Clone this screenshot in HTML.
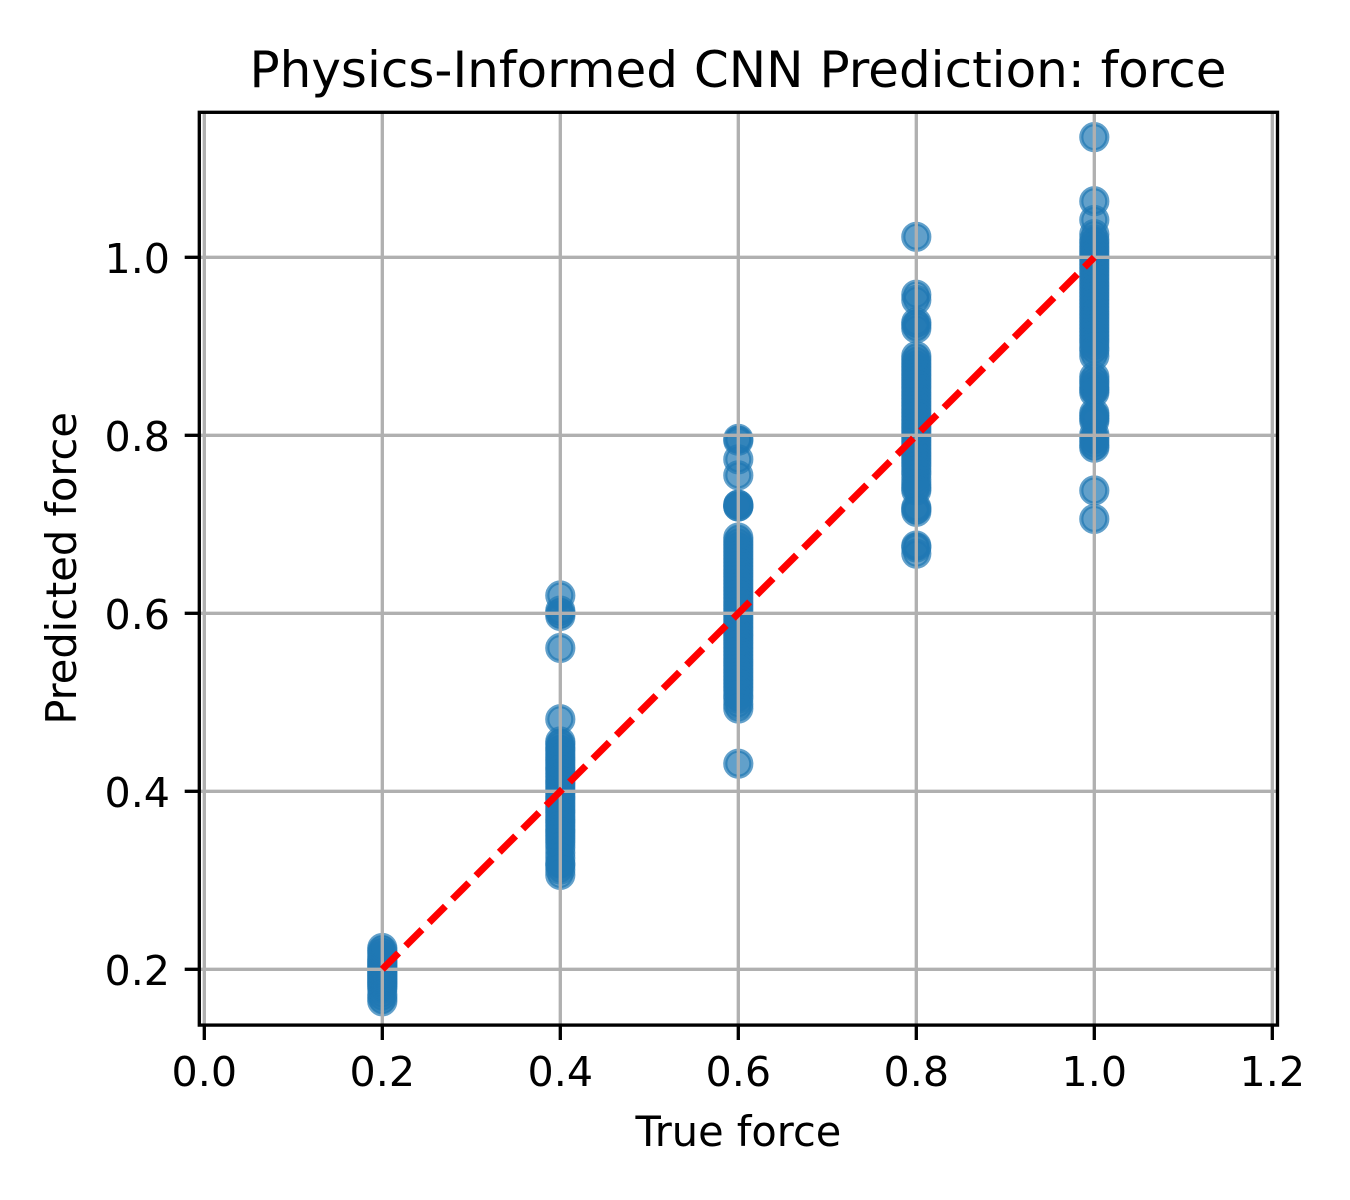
<!DOCTYPE html>
<html lang="en">
<head>
<meta charset="utf-8">
<title>Physics-Informed CNN Prediction: force</title>
<style>
  html, body { margin: 0; padding: 0; background: #fff; }
  svg { display: block; }
  text { font-family: "DejaVu Sans", "Liberation Sans", sans-serif; fill: #000; }
</style>
</head>
<body>
<svg id="chart" xmlns="http://www.w3.org/2000/svg" width="1350" height="1200" viewBox="0 0 1350 1200">
  <rect x="0" y="0" width="1350" height="1200" fill="#ffffff"/>
  <g id="points"></g>
  <g id="grid"></g>
  <g id="ideal"></g>
  <g id="ticks"></g>
  <rect x="199.3" y="112.3" width="1078.2" height="912.8" fill="none" stroke="#000" stroke-width="3.33"/>
  <text x="738" y="87" font-size="50" text-anchor="middle">Physics-Informed CNN Prediction: force</text>
  <text x="738.4" y="1146" font-size="41.5" text-anchor="middle">True force</text>
  <text transform="translate(76 568.4) rotate(-90)" font-size="41.5" text-anchor="middle">Predicted force</text>
</svg>
<script>
const categories = [0.2, 0.4, 0.6, 0.8, 1.0];
const xTickLabels = ["0.0", "0.2", "0.4", "0.6", "0.8", "1.0", "1.2"];
const yTickLabels = ["0.2", "0.4", "0.6", "0.8", "1.0"];
const idealLine = [0.2, 1.0];

const predicted02 = [0.164, 0.168, 0.172, 0.178, 0.181, 0.183, 0.185, 0.187, 0.189, 0.191, 0.193, 0.195, 0.197, 0.199, 0.201, 0.203, 0.205, 0.207, 0.209, 0.211, 0.214, 0.218, 0.221, 0.224];
const predicted04 = [0.620, 0.603, 0.600, 0.597, 0.561, 0.481, 0.456, 0.453, 0.449, 0.446, 0.442, 0.438, 0.435, 0.431, 0.427, 0.424, 0.420, 0.416, 0.412, 0.409, 0.405, 0.401, 0.398, 0.394, 0.391, 0.387, 0.383, 0.379, 0.376, 0.372, 0.368, 0.365, 0.361, 0.357, 0.354, 0.350, 0.346, 0.342, 0.337, 0.331, 0.325, 0.319, 0.317, 0.312, 0.306];
const predicted06 = [0.796, 0.794, 0.773, 0.755, 0.722, 0.722, 0.720, 0.720, 0.685, 0.681, 0.677, 0.673, 0.669, 0.665, 0.661, 0.657, 0.653, 0.649, 0.645, 0.641, 0.637, 0.633, 0.629, 0.625, 0.621, 0.617, 0.613, 0.609, 0.605, 0.601, 0.597, 0.593, 0.589, 0.585, 0.581, 0.577, 0.573, 0.569, 0.565, 0.561, 0.557, 0.553, 0.549, 0.545, 0.541, 0.537, 0.533, 0.529, 0.525, 0.521, 0.517, 0.513, 0.508, 0.504, 0.498, 0.493, 0.431];
const predicted08 = [1.023, 0.958, 0.952, 0.927, 0.924, 0.920, 0.889, 0.885, 0.881, 0.877, 0.873, 0.869, 0.865, 0.861, 0.857, 0.853, 0.849, 0.845, 0.841, 0.837, 0.833, 0.829, 0.825, 0.821, 0.817, 0.813, 0.809, 0.805, 0.801, 0.797, 0.793, 0.789, 0.785, 0.781, 0.777, 0.773, 0.769, 0.765, 0.760, 0.756, 0.750, 0.745, 0.741, 0.738, 0.719, 0.717, 0.714, 0.676, 0.674, 0.667];
const predicted10 = [1.135, 1.063, 1.042, 1.026, 1.020, 1.016, 1.012, 1.008, 1.004, 1.000, 0.996, 0.992, 0.988, 0.984, 0.980, 0.976, 0.972, 0.968, 0.964, 0.960, 0.956, 0.952, 0.948, 0.944, 0.940, 0.936, 0.932, 0.928, 0.924, 0.920, 0.916, 0.912, 0.908, 0.904, 0.899, 0.895, 0.889, 0.866, 0.862, 0.858, 0.854, 0.851, 0.848, 0.825, 0.822, 0.819, 0.816, 0.801, 0.797, 0.793, 0.789, 0.786, 0.738, 0.706];
const seriesValues = [predicted02, predicted04, predicted06, predicted08, predicted10];

const SVG_NS = "http://www.w3.org/2000/svg";
function xScale(v) { return 204.3 + 890 * v; }
function yScale(v) { return 1147.3 - 890 * v; }
function make(tag, parentId) {
  const el = document.createElementNS(SVG_NS, tag);
  document.getElementById(parentId).appendChild(el);
  return el;
}

// scatter points
categories.forEach(function (cat, i) {
  seriesValues[i].forEach(function (val) {
    const c = make("circle", "points");
    
    
    c.setAttribute("cx", xScale(cat));
    c.setAttribute("cy", yScale(val));
    c.setAttribute("r", 13);
    c.setAttribute("fill", "#1f77b4");
    c.setAttribute("fill-opacity", 0.7);
    c.setAttribute("stroke", "#1f77b4");
    c.setAttribute("stroke-opacity", 0.7);
    c.setAttribute("stroke-width", 4.2);
  });
});

// x grid lines, tick marks and labels
xTickLabels.forEach(function (label) {
  const v = parseFloat(label);
  const g = make("line", "grid");
  
  
  g.setAttribute("x1", xScale(v));
  g.setAttribute("x2", xScale(v));
  g.setAttribute("y1", 112.3);
  g.setAttribute("y2", 1025.1);
  g.setAttribute("stroke", "#b0b0b0");
  g.setAttribute("stroke-width", 3.33);

  const t = make("line", "ticks");
  
  
  t.setAttribute("x1", xScale(v));
  t.setAttribute("x2", xScale(v));
  t.setAttribute("y1", 1025.1);
  t.setAttribute("y2", 1040);
  t.setAttribute("stroke", "#000");
  t.setAttribute("stroke-width", 3.33);

  const l = make("text", "ticks");
  
  
  l.setAttribute("x", xScale(v));
  l.setAttribute("y", 1086);
  l.setAttribute("font-size", 41.2);
  l.setAttribute("text-anchor", "middle");
  l.textContent = label;
});

// y grid lines, tick marks and labels
yTickLabels.forEach(function (label) {
  const v = parseFloat(label);
  const g = make("line", "grid");
  
  
  g.setAttribute("x1", 199.3);
  g.setAttribute("x2", 1277.5);
  g.setAttribute("y1", yScale(v));
  g.setAttribute("y2", yScale(v));
  g.setAttribute("stroke", "#b0b0b0");
  g.setAttribute("stroke-width", 3.33);

  const t = make("line", "ticks");
  
  
  t.setAttribute("x1", 184.7);
  t.setAttribute("x2", 199.3);
  t.setAttribute("y1", yScale(v));
  t.setAttribute("y2", yScale(v));
  t.setAttribute("stroke", "#000");
  t.setAttribute("stroke-width", 3.33);

  const l = make("text", "ticks");
  
  
  l.setAttribute("x", 170);
  l.setAttribute("y", yScale(v) + 15.5);
  l.setAttribute("font-size", 41.2);
  l.setAttribute("text-anchor", "end");
  l.textContent = label;
});

// ideal y = x reference line
const ideal = make("line", "ideal");


ideal.setAttribute("x1", xScale(idealLine[0]));
ideal.setAttribute("y1", yScale(idealLine[0]));
ideal.setAttribute("x2", xScale(idealLine[1]));
ideal.setAttribute("y2", yScale(idealLine[1]));
ideal.setAttribute("stroke", "#ff0000");
ideal.setAttribute("stroke-width", 7);
ideal.setAttribute("stroke-dasharray", "23 10.1");
</script>
</body>
</html>
